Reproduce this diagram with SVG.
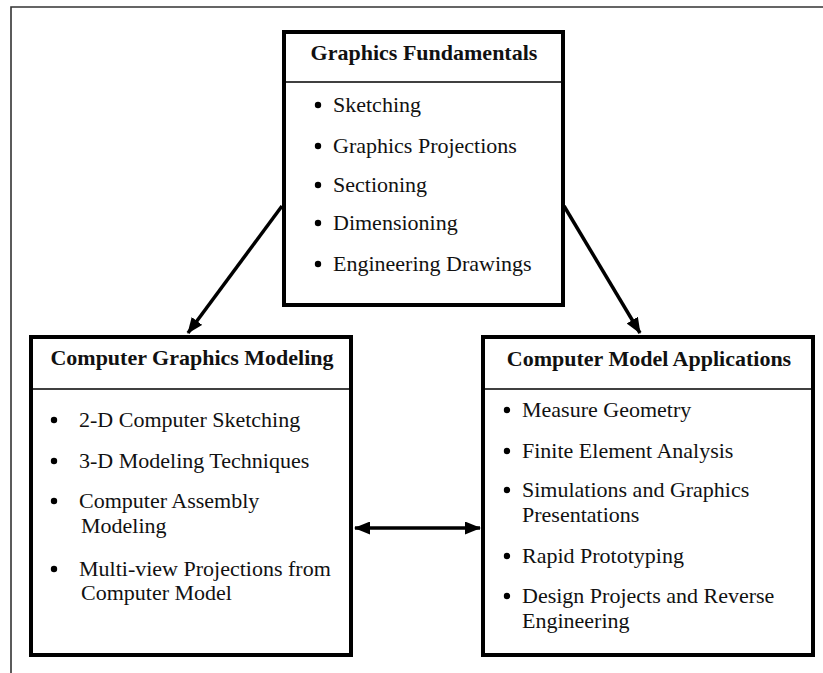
<svg xmlns="http://www.w3.org/2000/svg" width="823" height="673" viewBox="0 0 823 673">
<style>
.frame{fill:none;stroke:#333;stroke-width:1.6}
.box{fill:#fff;stroke:#000;stroke-width:4}
.div{stroke:#000;stroke-width:1.5}
.title{font-family:"Liberation Serif","Times New Roman",serif;font-weight:bold;font-size:22px;fill:#111;text-anchor:middle}
.item{font-family:"Liberation Serif","Times New Roman",serif;font-size:22px;fill:#111}
.dot{fill:#000}
.conn{stroke:#000;stroke-width:3.5;fill:none}
</style>
<defs>
<marker id="ahb" markerWidth="16" markerHeight="13" refX="15" refY="6.5" orient="auto-start-reverse" markerUnits="userSpaceOnUse" viewBox="0 0 16 13">
<path d="M0,0 L16,6.5 L0,13 z" fill="#000"/>
</marker>
</defs>
<rect width="823" height="673" fill="#fff"/>
<path class="frame" d="M11,673 L11,7 L823,7"/>

<g id="connectors">
<line class="conn" x1="282" y1="206" x2="188" y2="333" marker-end="url(#ahb)"/>
<line class="conn" x1="564" y1="206" x2="640" y2="333" marker-end="url(#ahb)"/>
<line class="conn" x1="355" y1="528" x2="480" y2="528" marker-start="url(#ahb)" marker-end="url(#ahb)"/>
</g>

<g id="graphics-fundamentals">
<rect class="box" x="284" y="32" width="279" height="273"/>
<line class="div" x1="284" y1="82" x2="563" y2="82"/>
<text class="title" x="424" y="60">Graphics Fundamentals</text>
<circle class="dot" cx="318" cy="105" r="3.2"/>
<text class="item" x="333" y="112">Sketching</text>
<circle class="dot" cx="318" cy="146" r="3.2"/>
<text class="item" x="333" y="153">Graphics Projections</text>
<circle class="dot" cx="318" cy="185" r="3.2"/>
<text class="item" x="333" y="192">Sectioning</text>
<circle class="dot" cx="318" cy="223" r="3.2"/>
<text class="item" x="333" y="230">Dimensioning</text>
<circle class="dot" cx="318" cy="264" r="3.2"/>
<text class="item" x="333" y="271">Engineering Drawings</text>
</g>

<g id="computer-graphics-modeling">
<rect class="box" x="31" y="337" width="320" height="318"/>
<line class="div" x1="31" y1="389" x2="351" y2="389"/>
<text class="title" x="192" y="365">Computer Graphics Modeling</text>
<circle class="dot" cx="54" cy="420" r="3.2"/>
<text class="item" x="79" y="427">2-D Computer Sketching</text>
<circle class="dot" cx="54" cy="461" r="3.2"/>
<text class="item" x="79" y="468">3-D Modeling Techniques</text>
<circle class="dot" cx="54" cy="501" r="3.2"/>
<text class="item" x="79" y="508">Computer Assembly</text>
<text class="item" x="81" y="533">Modeling</text>
<circle class="dot" cx="54" cy="569" r="3.2"/>
<text class="item" x="79" y="576">Multi-view Projections from</text>
<text class="item" x="81" y="600">Computer Model</text>
</g>

<g id="computer-model-applications">
<rect class="box" x="483" y="337" width="330" height="318"/>
<line class="div" x1="483" y1="389" x2="813" y2="389"/>
<text class="title" x="649" y="366">Computer Model Applications</text>
<circle class="dot" cx="507" cy="410" r="3.2"/>
<text class="item" x="522" y="417">Measure Geometry</text>
<circle class="dot" cx="507" cy="451" r="3.2"/>
<text class="item" x="522" y="458">Finite Element Analysis</text>
<circle class="dot" cx="507" cy="490" r="3.2"/>
<text class="item" x="522" y="497">Simulations and Graphics</text>
<text class="item" x="522" y="522">Presentations</text>
<circle class="dot" cx="507" cy="556" r="3.2"/>
<text class="item" x="522" y="563">Rapid Prototyping</text>
<circle class="dot" cx="507" cy="596" r="3.2"/>
<text class="item" x="522" y="603">Design Projects and Reverse</text>
<text class="item" x="522" y="628">Engineering</text>
</g>
</svg>
